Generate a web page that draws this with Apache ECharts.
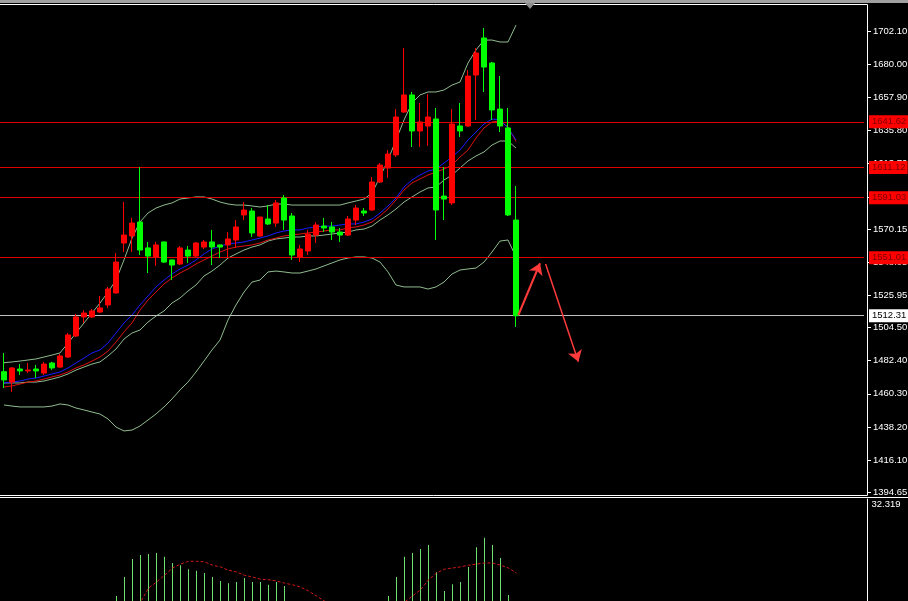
<!DOCTYPE html>
<html><head><meta charset="utf-8">
<script src="https://cdn.jsdelivr.net/npm/echarts@6/dist/echarts.min.js"></script>
<style>html,body{margin:0;padding:0;background:#000;overflow:hidden}#c{width:908px;height:601px}</style>
</head><body><div id="c"></div>
<script>
// ---- data ----
const opens  = [1475.0,1468.1,1476.8,1475.5,1476.8,1474.1,1480.8,1478.1,1484.8,1498.8,1511.5,1511.5,1514.8,1519.5,1527.5,1560.8,1565.5,1574.8,1557.5,1551.5,1561.5,1549.5,1546.8,1556.1,1552.1,1558.1,1561.5,1559.5,1559.5,1562.8,1579.5,1582.1,1565.5,1576.8,1574.1,1590.8,1578.8,1551.5,1555.5,1566.1,1572.1,1571.5,1568.1,1566.1,1576.1,1582.1,1582.8,1601.5,1610.8,1619.5,1648.1,1659.5,1635.5,1638.8,1643.5,1592.1,1587.5,1638.8,1638.8,1672.8,1697.5,1680.8,1650.1,1637.5,1576.1];
const closes = [1469.5,1477.5,1475.5,1476.1,1475.5,1480.1,1477.5,1485.5,1499.5,1511.5,1514.1,1515.5,1517.5,1530.1,1548.1,1566.1,1574.1,1556.1,1552.1,1559.5,1548.1,1546.1,1557.5,1552.1,1560.8,1561.5,1558.1,1558.1,1563.5,1571.5,1582.8,1567.5,1578.1,1573.5,1587.5,1576.1,1552.8,1556.8,1566.8,1572.8,1570.8,1568.1,1566.1,1576.8,1584.1,1580.8,1601.5,1612.8,1620.1,1644.8,1659.5,1635.5,1641.5,1644.8,1582.8,1590.1,1640.1,1635.5,1672.1,1687.5,1678.1,1649.5,1638.8,1579.5,1512.31];
const lows   = [1464.1,1461.5,1472.8,1474.1,1470.8,1472.8,1476.1,1477.5,1484.1,1498.1,1507.5,1510.8,1514.1,1517.5,1527.0,1554.8,1554.8,1552.8,1540.8,1545.5,1547.5,1536.1,1546.1,1547.5,1551.5,1556.8,1546.1,1550.8,1551.5,1557.5,1576.1,1564.8,1564.8,1572.8,1571.5,1569.5,1549.5,1548.1,1552.8,1560.8,1568.1,1562.8,1561.5,1565.5,1572.8,1578.8,1582.3,1600.8,1604.1,1618.1,1647.5,1624.8,1624.8,1625.5,1562.8,1576.1,1586.1,1631.5,1638.1,1642.8,1661.5,1642.8,1634.8,1578.8,1504.8];
const highs  = [1487.5,1478.1,1480.1,1480.8,1479.5,1481.5,1481.5,1486.8,1500.8,1513.5,1516.1,1516.8,1525.5,1531.5,1554.1,1588.1,1577.5,1611.5,1561.5,1561.5,1561.8,1549.8,1558.8,1558.8,1561.5,1562.8,1569.5,1559.8,1568.1,1576.1,1588.1,1584.1,1578.3,1586.1,1589.5,1592.8,1580.8,1559.5,1569.5,1574.8,1577.5,1574.8,1570.8,1578.8,1586.1,1584.1,1604.8,1614.1,1622.8,1650.1,1690.8,1661.5,1654.1,1660.1,1650.8,1611.5,1650.1,1654.1,1676.1,1690.8,1704.1,1681.5,1672.1,1650.8,1598.8];

const maBlue = [1467.5,1468.1,1468.8,1470.1,1470.8,1472.1,1473.5,1474.8,1477.5,1480.8,1484.1,1487.5,1489.5,1494.1,1500.8,1507.5,1512.8,1519.5,1525.5,1531.5,1536.1,1540.1,1543.5,1546.1,1549.5,1553.5,1556.8,1558.8,1560.1,1560.8,1561.5,1562.8,1564.1,1565.5,1567.5,1568.8,1569.5,1569.5,1570.8,1571.5,1572.1,1572.1,1572.8,1573.5,1573.5,1574.8,1576.8,1580.8,1585.5,1590.8,1598.1,1602.8,1606.1,1608.8,1610.1,1614.1,1618.1,1622.8,1629.5,1634.8,1640.1,1643.5,1642.8,1637.5,1629.5];
const maRed  = [1464.8,1465.5,1466.8,1468.1,1468.8,1470.1,1471.5,1472.8,1474.8,1477.5,1479.5,1482.1,1484.8,1488.8,1494.8,1501.5,1507.5,1516.1,1522.8,1528.1,1533.5,1537.5,1540.8,1543.5,1546.8,1549.5,1552.1,1554.8,1556.8,1558.1,1558.8,1559.5,1560.8,1562.8,1564.1,1565.5,1566.1,1566.8,1567.5,1568.1,1568.8,1569.5,1569.5,1570.8,1571.5,1572.8,1574.8,1578.8,1583.5,1589.5,1596.1,1600.8,1603.5,1606.1,1608.1,1610.1,1612.8,1618.1,1622.8,1630.8,1637.5,1641.5,1642.1,1638.1,1628.5];
const bandUpper = [1481.0,1481.5,1482.1,1482.8,1483.5,1484.8,1486.1,1487.5,1494.1,1500.8,1507.5,1514.1,1520.8,1528.1,1536.1,1549.5,1564.1,1574.8,1580.8,1584.1,1586.1,1587.5,1590.1,1590.8,1591.5,1591.5,1590.1,1588.1,1586.8,1586.1,1586.1,1585.5,1584.8,1585.5,1586.8,1586.8,1586.1,1586.1,1586.1,1586.1,1586.1,1586.1,1586.1,1587.5,1588.8,1590.1,1594.1,1604.8,1616.1,1629.5,1642.8,1654.1,1659.5,1661.5,1661.5,1662.8,1666.1,1668.1,1680.8,1689.5,1696.1,1696.1,1694.8,1694.8,1706.1];
const bandMiddle = [1467.5,1467.5,1467.5,1468.1,1468.1,1468.8,1470.1,1471.5,1473.5,1476.1,1478.1,1480.1,1481.5,1485.5,1490.1,1496.8,1500.8,1502.8,1508.1,1512.1,1515.5,1520.8,1524.1,1528.8,1532.8,1538.8,1542.1,1546.1,1550.8,1553.5,1556.1,1558.1,1559.5,1562.1,1563.5,1564.1,1564.8,1564.8,1565.5,1565.5,1566.1,1566.8,1567.5,1568.1,1569.5,1570.1,1572.1,1576.1,1579.5,1583.5,1588.1,1591.5,1594.8,1597.5,1598.1,1602.8,1606.1,1610.8,1615.5,1618.8,1621.5,1626.1,1628.8,1628.8,1624.1];
const bandLower = [1452.8,1452.1,1451.5,1451.5,1451.5,1451.5,1452.1,1453.5,1452.8,1450.8,1449.5,1448.1,1446.8,1443.5,1438.1,1435.5,1436.1,1438.8,1442.8,1446.8,1451.5,1456.8,1462.8,1468.1,1474.8,1482.1,1489.5,1496.1,1509.5,1519.5,1528.1,1534.8,1536.1,1541.5,1542.1,1541.5,1540.8,1540.8,1542.1,1543.5,1545.5,1547.5,1549.5,1550.8,1551.5,1551.5,1550.8,1548.1,1541.5,1532.8,1531.5,1531.5,1531.5,1530.1,1531.5,1534.8,1540.1,1542.8,1543.5,1544.1,1548.1,1554.8,1562.1,1562.8,1551.5];

const macdHist = [4.0,4.3,4.5,4.6,4.8,5.2,5.5,6.2,7.5,9.0,10.2,11.2,12.3,13.5,15.0,18.4,21.6,22.3,22.5,22.7,22.0,20.9,20.5,19.8,19.5,19.1,18.4,17.7,17.3,17.5,18.2,17.5,17.5,17.0,17.5,16.8,13.6,12.5,12.1,12.1,11.6,11.4,11.1,11.6,12.1,12.1,12.9,13.6,15.0,18.4,22.0,22.7,23.4,24.1,19.3,15.9,17.1,17.5,20.2,23.7,25.4,24.1,21.8,15.2,10.7];
const macdSignal = [5.0,5.1,5.2,5.3,5.4,5.6,5.8,6.1,6.6,7.2,8.0,8.8,9.7,10.7,11.7,12.6,13.4,13.9,16.4,17.5,18.7,20.0,20.7,21.2,21.2,21.1,20.5,20.2,19.6,19.3,18.7,18.4,18.0,17.9,17.7,17.3,17.0,16.6,15.9,15.0,14.1,13.4,13.0,12.7,12.5,12.4,12.4,12.6,12.9,13.4,13.9,15.0,16.1,17.9,19.1,19.8,20.0,20.2,20.5,20.7,20.9,20.9,20.5,20.0,19.1];
const macdTop = 32.319;
const macdVisibleMin = 14.11; // value at the bottom edge of the picture

const priceTicks = [1702.10,1680.00,1657.90,1635.80,1613.70,1591.60,1570.15,1548.05,1525.95,1504.50,1482.40,1460.30,1438.20,1416.10,1394.65];
const redLevels = [1641.62,1611.12,1591.03,1551.01];
const bidLevel = 1512.31;
const arrowUp = [[64.3,1512.8],[67.0,1547.3]];
const arrowDown = [[67.7,1546.8],[71.8,1481.7]];
const slotCount = 108; // bars incl. right-side shift space
const bars = Array.from({length: slotCount}, (_, i) => String(i + 1));

// ---- chart ----
const FONT = "'Liberation Sans',Arial,sans-serif";
const FS = 9.5;
const PMIN = 1392.8, PMAX = 1719.47;
const candles = opens.map((o, i) => [o, closes[i], lows[i], highs[i]]);
const chart = echarts.init(document.getElementById('c'), null, {renderer: 'canvas'});

function lineSeries(data, color, z) {
  return {type: 'line', xAxisIndex: 0, yAxisIndex: 0, data: data, symbol: 'none', z: z,
    lineStyle: {color: color, width: 1}, silent: true};
}
function labelAxis(values, bg, fg) {
  return {type: 'value', gridIndex: 0, position: 'right', offset: 3, min: PMIN, max: PMAX,
    splitLine: {show: false}, axisLine: {show: false, onZero: false}, axisTick: {show: false},
    axisLabel: {customValues: values, color: fg, backgroundColor: bg, padding: [2, 2, 1, 3],
      fontSize: FS, fontFamily: FONT, margin: 2, formatter: v => v.toFixed(2)}};
}

const markData = redLevels.map(v => ({yAxis: v, lineStyle: {color: '#e00000', width: 1, type: 'solid'}}));
markData.push({yAxis: bidLevel, lineStyle: {color: '#c0c0c0', width: 1, type: 'solid'}});

chart.setOption({
  animation: false,
  backgroundColor: '#000000',
  grid: [
    {left: 0, top: 5, width: 864, height: 490, outerBoundsMode: 'none', containLabel: false},
    {left: 0.5, top: 499, width: 864, bottom: 0, outerBoundsMode: 'none', containLabel: false}
  ],
  xAxis: [
    {type: 'category', gridIndex: 0, data: bars, show: false, boundaryGap: true},
    {type: 'value', gridIndex: 0, min: -0.5, max: slotCount - 0.5, show: false},
    {type: 'category', gridIndex: 1, data: bars, show: false, boundaryGap: true}
  ],
  yAxis: [
    {type: 'value', gridIndex: 0, position: 'right', offset: 3, min: PMIN, max: PMAX,
      splitLine: {show: false},
      axisLine: {show: true, onZero: false, lineStyle: {color: '#ffffff', width: 1}},
      axisTick: {show: true, length: 4, lineStyle: {color: '#ffffff'}, customValues: priceTicks},
      axisLabel: {customValues: priceTicks, color: '#ffffff', fontSize: FS, fontFamily: FONT, margin: 6,
        formatter: v => v.toFixed(2)}},
    {type: 'value', gridIndex: 1, position: 'right', offset: 3, min: macdVisibleMin, max: macdTop,
      splitLine: {show: false},
      axisLine: {show: true, onZero: false, lineStyle: {color: '#ffffff', width: 1}},
      axisTick: {show: false},
      axisLabel: {customValues: [macdTop], color: '#ffffff', fontSize: FS, fontFamily: FONT, margin: 4,
        verticalAlign: 'top', formatter: v => v.toFixed(3)}},
    labelAxis(redLevels, '#ff0000', '#7a0000'),
    labelAxis([bidLevel], '#ffffff', '#000000')
  ],
  series: [
    lineSeries(bandUpper, '#8fbc8f', 3),
    lineSeries(bandMiddle, '#8fbc8f', 3),
    lineSeries(bandLower, '#8fbc8f', 3),
    lineSeries(maRed, '#e01010', 4),
    lineSeries(maBlue, '#1a1aff', 4),
    {type: 'candlestick', xAxisIndex: 0, yAxisIndex: 0, data: candles, barWidth: 5, z: 5,
      itemStyle: {color: '#ff0000', color0: '#00ff00', borderColor: '#ff0000', borderColor0: '#00ff00', borderWidth: 1},
      markLine: {silent: true, symbol: ['none', 'none'], animation: false, label: {show: false},
        data: markData}},
    {type: 'lines', coordinateSystem: 'cartesian2d', xAxisIndex: 1, yAxisIndex: 0, z: 6,
      symbol: ['none', 'arrow'], symbolSize: 11,
      lineStyle: {color: '#ff3a3a', width: 2, opacity: 1, curveness: 0},
      data: [{coords: arrowUp}, {coords: arrowDown, lineStyle: {width: 1.5}}]},
    {type: 'bar', xAxisIndex: 2, yAxisIndex: 1, data: macdHist, barWidth: 1, clip: true,
      itemStyle: {color: '#6ee06e'}, silent: true},
    {type: 'line', xAxisIndex: 2, yAxisIndex: 1, data: macdSignal, symbol: 'none', clip: true,
      lineStyle: {color: '#d01818', width: 1, type: [3, 2]}, silent: true, z: 4}
  ],
  graphic: [
    {type: 'rect', shape: {x: 0, y: 0, width: 908, height: 3}, style: {fill: '#a0a0a0'}, silent: true},
    {type: 'line', shape: {x1: 0, y1: 4.5, x2: 867.5, y2: 4.5}, style: {stroke: '#ffffff', lineWidth: 1}, silent: true},
    {type: 'line', shape: {x1: 0, y1: 495.5, x2: 867.5, y2: 495.5}, style: {stroke: '#ffffff', lineWidth: 1}, silent: true},
    {type: 'line', shape: {x1: 0, y1: 497.5, x2: 908, y2: 497.5}, style: {stroke: '#ffffff', lineWidth: 1}, silent: true},
    {type: 'polygon', shape: {points: [[525, 3], [535, 3], [530, 9]]}, style: {fill: '#8c8c8c'}, silent: true}
  ]
});
</script></body></html>
